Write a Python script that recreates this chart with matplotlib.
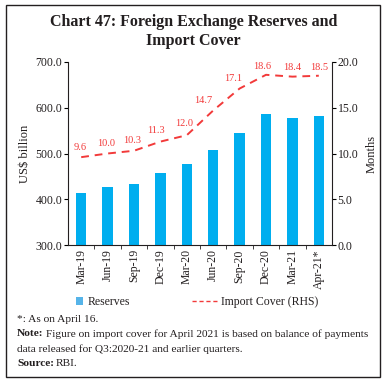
import matplotlib.pyplot as plt
from matplotlib.patches import Rectangle, Patch
from matplotlib.lines import Line2D
from matplotlib.ticker import FuncFormatter, FixedLocator

plt.rcParams["font.family"] = ["Liberation Serif", "DejaVu Serif"]

# Data
periods = ["Mar-19", "Jun-19", "Sep-19", "Dec-19", "Mar-20",
           "Jun-20", "Sep-20", "Dec-20", "Mar-21", "Apr-21*"]
reserves = [412.9, 427.7, 433.7, 457.5, 477.8, 506.8, 544.7, 585.3, 577.0, 582.4]
import_cover = [9.6, 10.0, 10.3, 11.3, 12.0, 14.7, 17.1, 18.6, 18.4, 18.5]

bar_color = "#00AEEF"
line_color = "#F23A3A"
text_color = "#231F20"

fig = plt.figure(figsize=(3.87, 3.82), dpi=100)
fig.patch.set_facecolor("white")

# outer frame
fig.patches.append(Rectangle((6 / 387, 1 - 377 / 382), 374 / 387, 372 / 382,
                             transform=fig.transFigure, fill=False,
                             edgecolor="#231F20", linewidth=1.0))

fig.text(0.5, 1 - 22 / 382, "Chart 47: Foreign Exchange Reserves and",
         ha="center", va="center", fontsize=11.5, fontweight="bold", color=text_color)
fig.text(0.5, 1 - 41 / 382, "Import Cover",
         ha="center", va="center", fontsize=11.5, fontweight="bold", color=text_color)

ax = fig.add_axes([68 / 387, 1 - 245 / 382, (332 - 68) / 387, (245 - 62) / 382])
x = list(range(len(periods)))
ax.bar(x, reserves, width=0.4, color=bar_color, zorder=2)
ax.set_ylim(300, 700)
ax.set_xlim(-0.5, len(periods) - 0.5)
ax.set_yticks([300, 400, 500, 600, 700])
ax.yaxis.set_major_formatter(FuncFormatter(lambda v, p: f"{v:.1f}"))
ax.set_ylabel("US$ billion", fontsize=9, color=text_color, labelpad=3)

ax.set_xticks(x)
ax.set_xticklabels(periods, rotation=90, fontsize=8.5, color=text_color)
ax.tick_params(axis="x", length=0, pad=3)
ax.xaxis.set_minor_locator(FixedLocator([i + 0.5 for i in range(len(periods) - 1)]))
ax.tick_params(axis="x", which="minor", length=3, direction="out", color=text_color)
ax.tick_params(axis="y", labelsize=8.5, length=3, direction="out", labelcolor=text_color,
               pad=1)

ax.spines["top"].set_visible(False)
ax.spines["right"].set_visible(False)
for s in ["left", "bottom"]:
    ax.spines[s].set_color(text_color)
    ax.spines[s].set_linewidth(0.8)

ax2 = ax.twinx()
ax2.plot(x, import_cover, color=line_color, linestyle=(0, (4, 3)), linewidth=1.4, zorder=3)
offsets = [(-1, 4), (-1, 4), (-1, 4), (-3, 5), (-2, 5), (-7, 4), (-5, 4), (-3, 3),
           (0, 3), (0, 3)]
for xi, v, off in zip(x, import_cover, offsets):
    ax2.annotate(f"{v:.1f}", (xi, v), xytext=off, textcoords="offset points",
                 ha="center", va="bottom", fontsize=7.5, color=line_color)
ax2.set_ylim(0, 20)
ax2.set_yticks([0, 5, 10, 15, 20])
ax2.yaxis.set_major_formatter(FuncFormatter(lambda v, p: f"{v:.1f}"))
ax2.tick_params(axis="y", labelsize=8.5, length=3, direction="out", labelcolor=text_color,
                pad=1)
ax2.set_ylabel("Months", fontsize=9, color=text_color, labelpad=5)
ax2.spines["top"].set_visible(False)
ax2.spines["left"].set_visible(False)
ax2.spines["bottom"].set_visible(False)
ax2.spines["right"].set_color(text_color)
ax2.spines["right"].set_linewidth(0.8)

leg1 = fig.legend(handles=[Patch(facecolor="#56B4E9", edgecolor="none", label="Reserves")],
                  loc="center left", bbox_to_anchor=(70 / 387, 1 - 302 / 382),
                  frameon=False, fontsize=8.5, handlelength=0.6, handleheight=0.6,
                  handletextpad=0.4, labelcolor=text_color, borderpad=0)
leg2 = fig.legend(handles=[Line2D([0], [0], color=line_color, linestyle=(0, (3, 2)),
                                  linewidth=1.0, label="Import Cover (RHS)")],
                  loc="center left", bbox_to_anchor=(186 / 387, 1 - 302 / 382),
                  frameon=False, fontsize=8.5, handlelength=2.1,
                  handletextpad=0.4, labelcolor=text_color, borderpad=0)

fs = 8.2
renderer = fig.canvas.get_renderer()


def line_with_bold(y, bold, rest):
    t = fig.text(17 / 387, 1 - y / 382, bold, fontsize=fs, va="center",
                 fontweight="bold", color=text_color)
    bb = t.get_window_extent(renderer=renderer)
    fig.text((bb.x1 + 2) / 387, 1 - y / 382, rest, fontsize=fs, va="center",
             color=text_color)


fig.text(17 / 387, 1 - 319 / 382, "*: As on April 16.", fontsize=fs, va="center",
         color=text_color)
line_with_bold(334, "Note:",
               "Figure on import cover for April 2021 is based on balance of payments")
fig.text(17 / 387, 1 - 349 / 382,
         "data released for Q3:2020-21 and earlier quarters.",
         fontsize=fs, va="center", color=text_color)
line_with_bold(364, "Source:", "RBI.")

fig.savefig("out.png", dpi=100)
